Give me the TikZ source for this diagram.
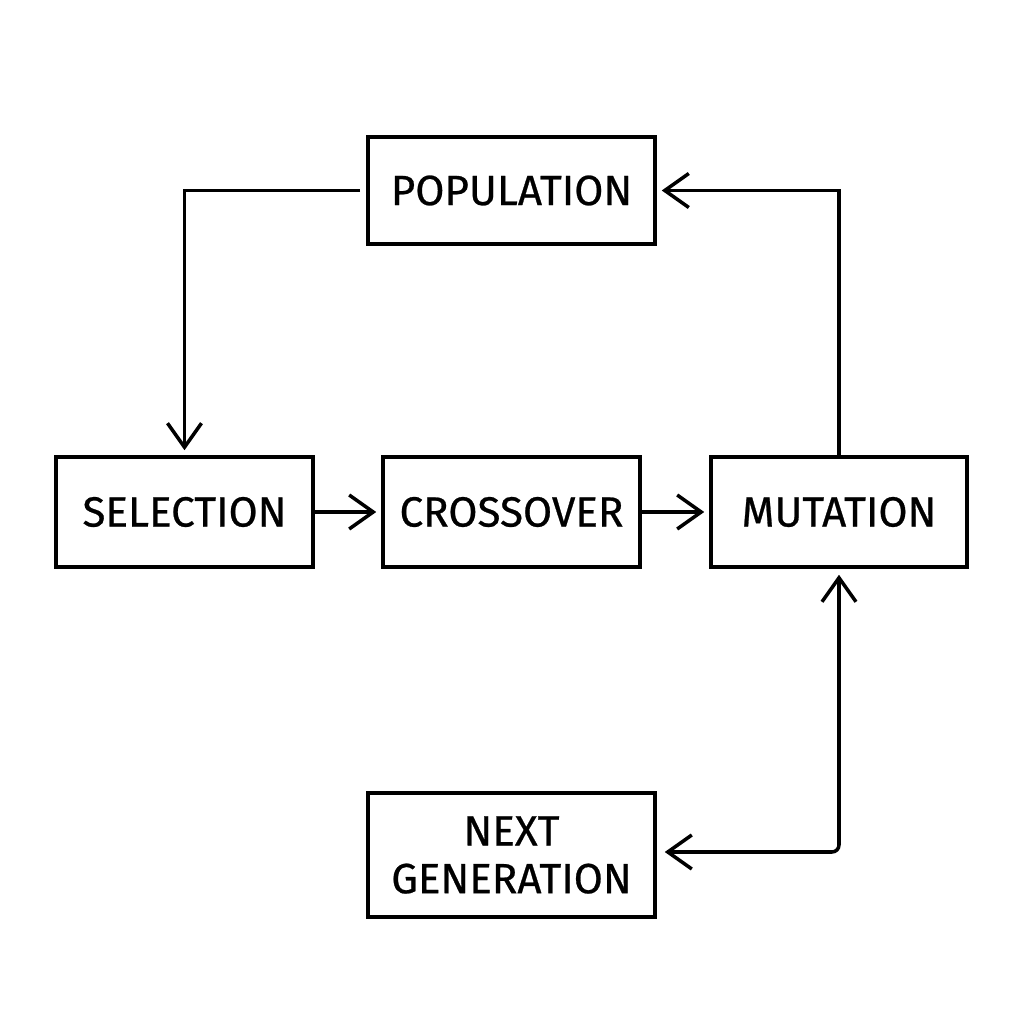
\documentclass[tikz,border=0pt]{standalone}
\usepackage{fontspec}
\newfontfamily\boxfont[FakeBold=0.6]{Fira Sans}
\usetikzlibrary{arrows.meta}
\tikzset{%
    stagebox/.style={%
        draw, line width=1pt, inner sep=0pt,
        minimum width=2.57cm, minimum height=1.10cm,
        font=\boxfont\fontsize{12}{13.6}\selectfont, align=center
    },
    barb/.tip={Straight Barb[length=2.4mm,width=3.4mm,line width=1pt]},
    flow/.style={line width=1pt, -barb}
}
\begin{document}
\begin{tikzpicture}
\useasboundingbox[fill=white] (0,0) rectangle (10.24,10.24);
%-----------------------------------------------
    \node[stagebox, minimum width=2.87cm, minimum height=1.07cm] (pop) at (5.115,8.335) {POPULATION};
    \node[stagebox] (sel) at (1.845,5.12) {SELECTION};
    \node[stagebox] (cross) at (5.115,5.12) {CROSSOVER};
    \node[stagebox, minimum width=2.56cm] (mut) at (8.39,5.12) {MUTATION};
    \node[stagebox, minimum width=2.87cm, minimum height=1.24cm] (next) at (5.115,1.69) {NEXT\\GENERATION};
%-----------------------------------------------
    \draw[flow, shorten >=0.05cm] ([xshift=-0.06cm]pop.west) -| (sel.north);
    \draw[flow, shorten >=0.05cm] (sel) -- (cross);
    \draw[flow, shorten >=0.05cm] (cross) -- (mut);
    \draw[flow, shorten >=0.05cm] (mut.north) |- (pop.east);
    \draw[flow, barb-barb, shorten >=0.06cm, shorten <=0.08cm, rounded corners=2pt]
        ([yshift=0.03cm]next.east) -| (mut.south);
\end{tikzpicture}
\end{document}
